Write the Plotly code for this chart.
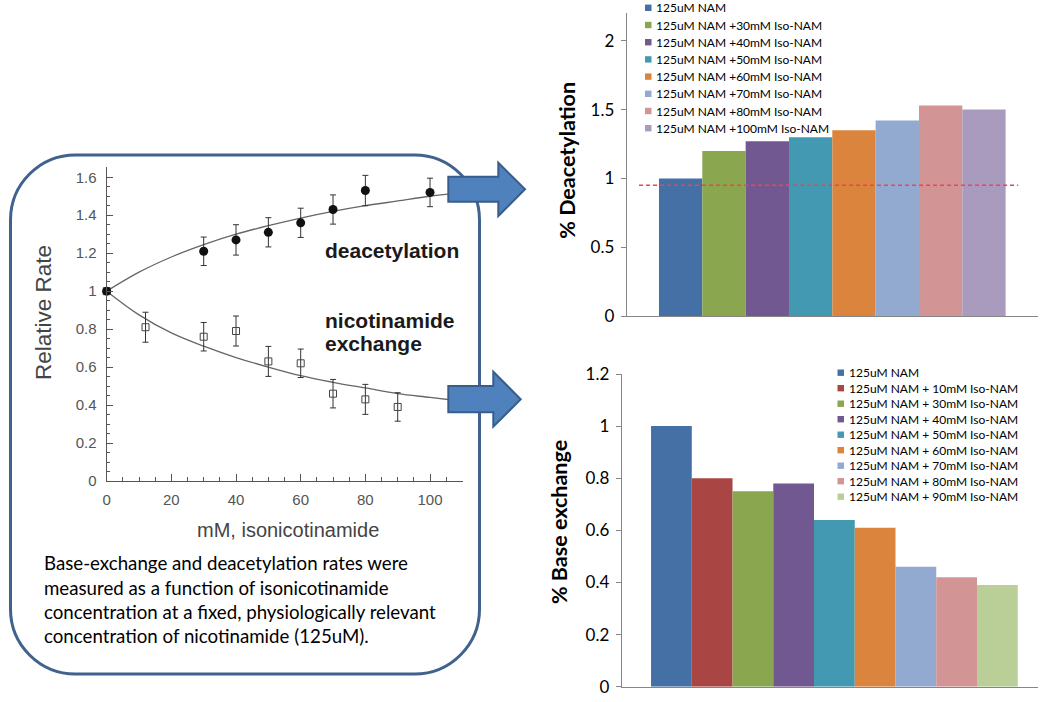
import plotly.graph_objects as go

W, H = 1053, 702


def X(px):
    return px / W


def Y(py):
    return 1 - py / H


# ---------------- data: left panel (relative rate vs mM isonicotinamide) -------------
deac_x = [0, 30, 40, 50, 60, 70, 80, 100]
deac_y = [1.0, 1.21, 1.27, 1.31, 1.36, 1.43, 1.53, 1.52]
deac_err = [0, 0.075, 0.08, 0.077, 0.077, 0.077, 0.08, 0.075]

exch_x = [0, 12, 30, 40, 50, 60, 70, 80, 90]
exch_y = [1.0, 0.81, 0.76, 0.79, 0.63, 0.62, 0.46, 0.43, 0.39]
exch_err = [0, 0.079, 0.075, 0.079, 0.079, 0.075, 0.075, 0.079, 0.075]

fit_x = [0, 10, 20, 30, 40, 50, 60, 70, 80, 90, 100, 110]
deac_fit = [1.0, 1.10, 1.18, 1.245, 1.30, 1.345, 1.385, 1.42, 1.45, 1.475, 1.50, 1.52]
exch_fit = [1.0, 0.875, 0.78, 0.71, 0.65, 0.60, 0.555, 0.52, 0.49, 0.46, 0.44, 0.42]

# ---------------- data: top-right bars (% deacetylation) ----------------
deac_labels = [
    "125uM NAM",
    "125uM NAM +30mM Iso-NAM",
    "125uM NAM +40mM Iso-NAM",
    "125uM NAM +50mM Iso-NAM",
    "125uM NAM +60mM Iso-NAM",
    "125uM NAM +70mM Iso-NAM",
    "125uM NAM +80mM Iso-NAM",
    "125uM NAM +100mM Iso-NAM",
]
deac_vals = [1.0, 1.2, 1.27, 1.3, 1.35, 1.42, 1.53, 1.5]
deac_colors = ["#4470a6", "#8aa64f", "#725891", "#4299b1", "#db843d",
               "#93aad0", "#d29494", "#a99bbd"]
deac_ref = 0.95

# ---------------- data: bottom-right bars (% base exchange) ----------------
exch_labels = [
    "125uM NAM",
    "125uM NAM + 10mM Iso-NAM",
    "125uM NAM + 30mM Iso-NAM",
    "125uM NAM + 40mM Iso-NAM",
    "125uM NAM + 50mM Iso-NAM",
    "125uM NAM + 60mM Iso-NAM",
    "125uM NAM + 70mM Iso-NAM",
    "125uM NAM + 80mM Iso-NAM",
    "125uM NAM + 90mM Iso-NAM",
]
exch_vals = [1.0, 0.8, 0.75, 0.78, 0.64, 0.61, 0.46, 0.42, 0.39]
exch_colors = ["#4470a6", "#a94542", "#8aa64f", "#725891", "#4299b1",
               "#db843d", "#93aad0", "#d29494", "#b9cf97"]

caption_lines = [
    "Base-exchange and deacetylation rates were",
    "measured as a function of isonicotinamide",
    "concentration at a fixed, physiologically relevant",
    "concentration of nicotinamide (125uM).",
]

fig = go.Figure()

# ---- left panel traces ----
fig.add_trace(go.Scatter(x=fit_x, y=deac_fit, mode="lines", line=dict(color="#666", width=1.3, shape="spline"),
                         xaxis="x", yaxis="y", showlegend=False, hoverinfo="skip"))
fig.add_trace(go.Scatter(x=fit_x, y=exch_fit, mode="lines", line=dict(color="#666", width=1.3, shape="spline"),
                         xaxis="x", yaxis="y", showlegend=False, hoverinfo="skip"))
fig.add_trace(go.Scatter(x=exch_x, y=exch_y, mode="markers", name="nicotinamide exchange",
                         marker=dict(symbol="square-open", size=7, color="#444", line=dict(width=1)),
                         error_y=dict(type="data", array=exch_err, color="#333", thickness=1, width=3),
                         xaxis="x", yaxis="y", showlegend=False, cliponaxis=False))
fig.add_trace(go.Scatter(x=deac_x, y=deac_y, mode="markers", name="deacetylation",
                         marker=dict(symbol="circle", size=9, color="#111"),
                         error_y=dict(type="data", array=deac_err, color="#333", thickness=1, width=3),
                         xaxis="x", yaxis="y", showlegend=False, cliponaxis=False))

# ---- top-right bars ----
for i, (lab, v, c) in enumerate(zip(deac_labels, deac_vals, deac_colors)):
    fig.add_trace(go.Bar(x=[i], y=[v], width=1, name=lab, marker=dict(color=c, line=dict(width=0)),
                         xaxis="x2", yaxis="y2", showlegend=False))
fig.add_trace(go.Scatter(x=[-0.96, 7.79], y=[deac_ref, deac_ref], mode="lines",
                         line=dict(color="#e8474f", width=1.5, dash="4px,3px"),
                         xaxis="x2", yaxis="y2", showlegend=False, hoverinfo="skip"))

# ---- bottom-right bars ----
for i, (lab, v, c) in enumerate(zip(exch_labels, exch_vals, exch_colors)):
    fig.add_trace(go.Bar(x=[i], y=[v], width=1, name=lab, marker=dict(color=c, line=dict(width=0)),
                         xaxis="x3", yaxis="y3", showlegend=False))

gray_l = "#555"
left_font = dict(family="Arial, Liberation Sans", size=15, color=gray_l)
bar_font = dict(family="Lato", size=17, color="#000")
bar_axis = "#868686"

fig.update_layout(
    width=W, height=H,
    margin=dict(l=0, r=0, t=0, b=0, pad=0, autoexpand=False),
    paper_bgcolor="white", plot_bgcolor="rgba(0,0,0,0)",
    barmode="overlay",
    showlegend=False,
    xaxis=dict(domain=[X(106.7), X(463)], range=[0, 110.2], anchor="y", automargin=False,
               showline=True, linecolor=gray_l, linewidth=1.2, showgrid=False, zeroline=False,
               ticks="inside", ticklen=7, tickcolor=gray_l, tickwidth=1, tick0=0, dtick=20,
               minor=dict(dtick=5, ticklen=4, ticks="inside", tickcolor=gray_l, showgrid=False),
               tickfont=left_font, ticklabelstandoff=5),
    yaxis=dict(domain=[Y(481), Y(167)], range=[0, 1.654], anchor="x", automargin=False,
               showline=True, linecolor=gray_l, linewidth=1.2, showgrid=False, zeroline=False,
               ticks="inside", ticklen=6, tickcolor=gray_l, tickwidth=1, tick0=0, dtick=0.2,
               minor=dict(dtick=0.05, ticklen=3, ticks="inside", tickcolor=gray_l, showgrid=False),
               tickfont=left_font, ticklabelstandoff=6),
    xaxis2=dict(domain=[X(626.7), X(1037.7)], range=[-1.245, 8.24], anchor="y2", automargin=False,
                showline=True, linecolor=bar_axis, linewidth=1, showgrid=False, zeroline=False,
                showticklabels=False, ticks=""),
    yaxis2=dict(domain=[Y(316), Y(13.3)], range=[0, 2.2], anchor="x2", automargin=False,
                showline=True, linecolor=bar_axis, linewidth=1, showgrid=False, zeroline=False,
                ticks="outside", ticklen=5, tickcolor=bar_axis, dtick=0.5, tick0=0,
                tickfont=bar_font, ticklabelstandoff=3),
    xaxis3=dict(domain=[X(621.7), X(1037.7)], range=[-1.22, 8.99], anchor="y3", automargin=False,
                showline=True, linecolor=bar_axis, linewidth=1, showgrid=False, zeroline=False,
                showticklabels=False, ticks=""),
    yaxis3=dict(domain=[Y(686.7), Y(374)], range=[0, 1.2], anchor="x3", automargin=False,
                showline=True, linecolor=bar_axis, linewidth=1, showgrid=False, zeroline=False,
                ticks="outside", ticklen=5, tickcolor=bar_axis, dtick=0.2, tick0=0,
                tickfont=bar_font, ticklabelstandoff=3),
)

shapes = []
annotations = []


def pt(px, py):
    return f"{X(px):.5f},{Y(py):.5f}"


# rounded box
bx0, bx1, by0, by1, r = 10.5, 479.5, 155, 674, 65
k = 0.5523 * r
box_path = (
    f"M {pt(bx0 + r, by0)} L {pt(bx1 - r, by0)} "
    f"C {pt(bx1 - r + k, by0)} {pt(bx1, by0 + r - k)} {pt(bx1, by0 + r)} "
    f"L {pt(bx1, by1 - r)} "
    f"C {pt(bx1, by1 - r + k)} {pt(bx1 - r + k, by1)} {pt(bx1 - r, by1)} "
    f"L {pt(bx0 + r, by1)} "
    f"C {pt(bx0 + r - k, by1)} {pt(bx0, by1 - r + k)} {pt(bx0, by1 - r)} "
    f"L {pt(bx0, by0 + r)} "
    f"C {pt(bx0, by0 + r - k)} {pt(bx0 + r - k, by0)} {pt(bx0 + r, by0)} Z"
)
shapes.append(dict(type="path", xref="paper", yref="paper", path=box_path,
                   line=dict(color="#40628c", width=3), fillcolor="rgba(0,0,0,0)", layer="below"))


def arrow(xl, yt, yb, xh, yht, yhb, xtip, ytip):
    pts = [(xl, yt), (xh, yt), (xh, yht), (xtip, ytip), (xh, yhb), (xh, yb), (xl, yb)]
    return "M " + " L ".join(pt(a, b) for a, b in pts) + " Z"


for a in [arrow(448.3, 176.7, 201.7, 498.3, 162.7, 216, 525, 189.3),
          arrow(448.3, 386, 412.3, 493.3, 371.7, 426.7, 520.7, 399.3)]:
    shapes.append(dict(type="path", xref="paper", yref="paper", path=a,
                       line=dict(color="#385d8a", width=2), fillcolor="#4f81bd", layer="above"))


def ann(x, y, text, font, xanchor="center", yanchor="middle", **kw):
    d = dict(x=X(x), y=Y(y), xref="paper", yref="paper", text=text, showarrow=False,
             xanchor=xanchor, yanchor=yanchor, font=font)
    d.update(kw)
    return d


# legends (top chart)
leg_font = dict(family="Lato", size=12, color="#000")
for i, (lab, c) in enumerate(zip(deac_labels, deac_colors)):
    yc = 7.8 + 17.2 * i
    shapes.append(dict(type="rect", xref="paper", yref="paper",
                       x0=X(645), x1=X(651.5), y0=Y(yc + 3.2), y1=Y(yc - 3.2),
                       fillcolor=c, line=dict(width=0)))
    annotations.append(ann(653.5, yc, lab, leg_font, xanchor="left"))
# legends (bottom chart)
for i, (lab, c) in enumerate(zip(exch_labels, exch_colors)):
    yc = 372.7 + 15.5 * i
    shapes.append(dict(type="rect", xref="paper", yref="paper",
                       x0=X(837.5), x1=X(844), y0=Y(yc + 3.2), y1=Y(yc - 3.2),
                       fillcolor=c, line=dict(width=0)))
    annotations.append(ann(847, yc, lab, leg_font, xanchor="left"))

arial = "Arial, Liberation Sans"
annotations += [
    ann(43, 313, "Relative Rate", dict(family=arial, size=22.5, color="#444"), textangle=-90),
    ann(288, 530, "mM, isonicotinamide", dict(family=arial, size=20, color="#444")),
    ann(323.3, 250, "<b>deacetylation</b>", dict(family=arial, size=21, color="#1a1a1a"), xanchor="left"),
    ann(323.3, 320, "<b>nicotinamide</b>", dict(family=arial, size=21, color="#1a1a1a"), xanchor="left"),
    ann(323.3, 343.3, "<b>exchange</b>", dict(family=arial, size=21, color="#1a1a1a"), xanchor="left"),
    ann(566.7, 160, "<b>% Deacetylation</b>", dict(family="Lato", size=21.5, color="#000"), textangle=-90),
    ann(558.3, 521.7, "<b>% Base exchange</b>", dict(family="Lato", size=21.5, color="#000"), textangle=-90),
]
for i, line in enumerate(caption_lines):
    annotations.append(ann(42, 563.3 + 24.3 * i, line, dict(family="Lato", size=18.7, color="#000"),
                           xanchor="left"))

fig.update_layout(shapes=shapes, annotations=annotations)
# remove the browser's default 8px body margin so the figure fills the window exactly
fig.write_html("out.html", config={"displayModeBar": False},
               post_script="document.body.style.margin='0px';")
